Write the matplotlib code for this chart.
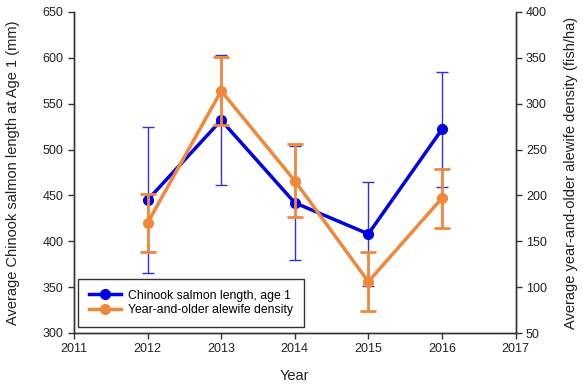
import matplotlib.pyplot as plt
from matplotlib.lines import Line2D
import numpy as np

plt.rcParams['font.family'] = ['Liberation Sans', 'DejaVu Sans']

years = [2012, 2013, 2014, 2015, 2016]

# Chinook salmon length at age 1 (mm), with error
chinook_len = [445, 532, 442, 408, 522]
chinook_err = [80, 71, 62, 57, 63]

# Year-and-older alewife density (fish/ha), with error
alewife_dens = [170, 314, 216, 106, 197]
alewife_err = [32, 37, 40, 32, 32]

blue = '#0000E6'
orange = '#F0883C'

fig = plt.figure(figsize=(5.83, 3.85), dpi=100)
ax = fig.add_axes([74 / 583, 1 - 333 / 385, (515.5 - 74) / 583, (333 - 12) / 385])
ax2 = ax.twinx()

ax.errorbar(years, chinook_len, yerr=chinook_err, color=blue, lw=2.5,
            marker='o', ms=7, ecolor='#3030E0', elinewidth=1, capsize=4,
            capthick=1, zorder=3)
ax2.errorbar(years, alewife_dens, yerr=alewife_err, color=orange, lw=2.5,
             marker='o', ms=7, ecolor=orange, elinewidth=2, capsize=6,
             capthick=2, zorder=3)

ax.set_xlim(2011, 2017)
ax.set_ylim(300, 650)
ax2.set_ylim(50, 400)
ax.set_xticks(np.arange(2011, 2018))
ax.set_yticks(np.arange(300, 651, 50))
ax2.set_yticks(np.arange(50, 401, 50))

for a in (ax, ax2):
    a.spines['top'].set_visible(False)
    for s in a.spines.values():
        s.set_color('#333333')
        s.set_linewidth(1)
    a.tick_params(direction='out', length=4, width=1, color='#333333',
                  labelsize=9, labelcolor='#222222')

ax.set_xlabel('Year', fontsize=10.5, color='#222222', labelpad=10)
ax.set_ylabel('Average Chinook salmon length at Age 1 (mm)', fontsize=10.5,
              color='#222222', labelpad=16)
ax2.set_ylabel('Average year-and-older alewife density (fish/ha)', fontsize=10.5,
               color='#222222', labelpad=12)

handles = [Line2D([], [], color=blue, lw=2.5, marker='o', ms=7),
           Line2D([], [], color=orange, lw=2.5, marker='o', ms=7)]
labels = ['Chinook salmon length, age 1', 'Year-and-older alewife density']
leg = ax2.legend(handles, labels, loc='lower left', bbox_to_anchor=(0.009, 0.018),
                 borderaxespad=0, fontsize=8.8, frameon=True, fancybox=False,
                 edgecolor='#333333', framealpha=1, handlelength=2.6,
                 handletextpad=0.6, borderpad=0.9, labelspacing=0.2)
leg.get_frame().set_linewidth(1)

fig.savefig('out.png', dpi=100)
